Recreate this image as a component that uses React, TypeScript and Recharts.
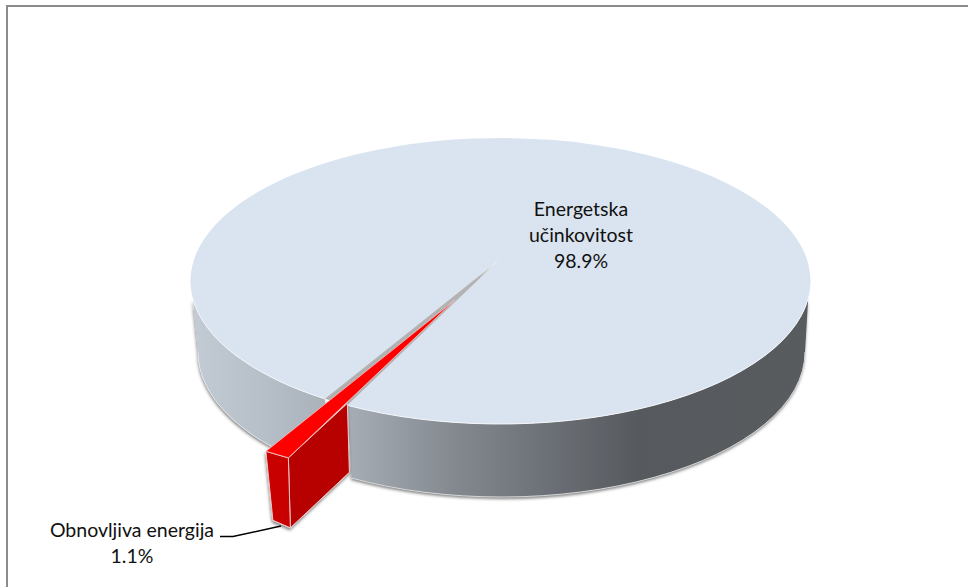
import { PieChart, Pie } from "recharts";

const categories = ["Energetska učinkovitost", "Obnovljiva energija"];
const shares = [98.9, 1.1];
const labelLines = [["Energetska", "učinkovitost"], ["Obnovljiva energija"]];

const chartData = categories.map((name, i) => ({ name, value: shares[i] }));

// fake 3d: the circular pie is squashed into an ellipse in the slice shape
const CX = 500.5;
const CY = 281;
const RX = 310;
const RY = 143;
const BOTTOM_RX = 303.5;
const BOTTOM_RY = 145;
const BOTTOM_SHIFT = 1;
const DEPTH = 71;
const APEX_OFFSET = -21; // perspective moves the visible middle above the ellipse centre
const WIDEN = 0.94; // the near slice looks a bit wider than its real angle
const WALL_START = 187; // the wall only shows up a little below the widest point
const WALL_END = 353;

const rad = (a: number) => (a * Math.PI) / 180;
const top = (cx: number, cy: number, a: number) => ({
  x: cx + RX * Math.cos(rad(a)),
  y: cy - RY * Math.sin(rad(a)),
});
const bottom = (cx: number, cy: number, a: number) => ({
  x: cx + BOTTOM_SHIFT + BOTTOM_RX * Math.cos(rad(a)),
  y: cy + DEPTH - BOTTOM_RY * Math.sin(rad(a)),
});

function rimArc(cx: number, cy: number, a1: number, a2: number) {
  const q1 = bottom(cx, cy, a1);
  const q2 = bottom(cx, cy, a2);
  return `M${q1.x},${q1.y} A${BOTTOM_RX},${BOTTOM_RY} 0 0 0 ${q2.x},${q2.y}`;
}

// t1..t2 is the arc on the top ellipse, b1..b2 the arc on the bottom one
function wall(cx: number, cy: number, t1: number, t2: number, b1: number, b2: number) {
  const p1 = top(cx, cy, t1);
  const p2 = top(cx, cy, t2);
  const q1 = bottom(cx, cy, b1);
  const q2 = bottom(cx, cy, b2);
  return (
    `M${p1.x},${p1.y} A${RX},${RY} 0 0 0 ${p2.x},${p2.y} ` +
    `L${q2.x},${q2.y} A${BOTTOM_RX},${BOTTOM_RY} 0 0 1 ${q1.x},${q1.y} Z`
  );
}

function poly(points: { x: number; y: number }[]) {
  return points.map((p, i) => `${i ? "L" : "M"}${p.x},${p.y}`).join(" ") + " Z";
}

function MainSlice({ cx, cy, startAngle, endAngle }: any) {
  const a1 = startAngle;
  const a2 = endAngle - WIDEN;
  const apex = { x: cx - 1.5, y: cy + APEX_OFFSET };
  const p1 = top(cx, cy, a1);
  const p2 = top(cx, cy, a2);
  const leftEnd = a2 - 360;
  return (
    <g>
      <g filter="url(#pieShadow)">
        <path d={wall(cx, cy, WALL_START, leftEnd, 180, leftEnd)} fill="url(#wallFill)" />
        <path d={wall(cx, cy, a1, WALL_END, a1, 360)} fill="url(#wallFill)" />
      </g>
      <path d={rimArc(cx, cy, 180, leftEnd)} fill="none" stroke="#e4e7ea" strokeWidth={1} />
      <path d={rimArc(cx, cy, a1, 360)} fill="none" stroke="#d4d6d8" strokeWidth={1} />
      <path
        d={`M${apex.x},${apex.y} L${p1.x},${p1.y} A${RX},${RY} 0 1 0 ${p2.x},${p2.y} Z`}
        fill="#dae4f0"
      />
      <path
        d={`M${top(cx, cy, WALL_START).x},${top(cx, cy, WALL_START).y} A${RX},${RY} 0 0 0 ${p2.x},${p2.y}`}
        fill="none"
        stroke="#f4f6f9"
        strokeWidth={1}
      />
      <path
        d={`M${p1.x},${p1.y} A${RX},${RY} 0 0 0 ${top(cx, cy, WALL_END).x},${top(cx, cy, WALL_END).y}`}
        fill="none"
        stroke="#f4f6f9"
        strokeWidth={1}
      />
      <path d={poly([apex, p2, p1])} fill="url(#notchFill)" />
    </g>
  );
}

function RedSlice({ cx, cy, startAngle, endAngle }: any) {
  const ox = -59;
  const oy = 52.5;
  const tip = { x: cx - 45.5, y: cy + 19 };
  const a = top(cx, cy, startAngle - WIDEN);
  const b = top(cx, cy, endAngle);
  const outerL = { x: a.x + ox, y: a.y + oy };
  const outerR = { x: b.x + ox, y: b.y + oy };
  const lowL = { x: outerL.x + 7, y: outerL.y + 69 };
  const lowR = { x: outerR.x + 2, y: outerR.y + 70 };
  const inner = { x: b.x, y: b.y - 2 };
  const innerLow = { x: inner.x + 2, y: inner.y + 69 };
  const edge = { stroke: "#f0c8c8", strokeWidth: 1, strokeLinejoin: "round" as const };
  return (
    <g>
      <g filter="url(#pieShadow)">
        <path d={poly([outerR, inner, innerLow, lowR])} fill="#b70000" {...edge} />
        <path d={poly([outerL, outerR, lowR, lowL])} fill="#c90000" {...edge} />
      </g>
      <path d={poly([tip, outerL, outerR])} fill="#ff0000" {...edge} strokeWidth={0.8} />
    </g>
  );
}

function renderSlice(props: any) {
  return props.index === 0 ? <MainSlice {...props} /> : <RedSlice {...props} />;
}

function renderLabel(props: any) {
  const { index, value } = props;
  const lines = labelLines[index];
  const pct = `${value}%`;
  const textStyle = { fontFamily: "Lato, sans-serif", fontSize: 19.5, fill: "#111" };
  if (index === 0) {
    return (
      <text {...textStyle} textAnchor="middle">
        <tspan x={581} y={216}>{lines[0]}</tspan>
        <tspan x={581} y={242}>{lines[1]}</tspan>
        <tspan x={581} y={268}>{pct}</tspan>
      </text>
    );
  }
  return (
    <g>
      <path d="M220,536.5 L233,536.5 L281,526" fill="none" stroke="#000" strokeWidth={1.5} />
      <text {...textStyle} textAnchor="middle">
        <tspan x={132} y={537}>{lines[0]}</tspan>
        <tspan x={132} y={563}>{pct}</tspan>
      </text>
    </g>
  );
}

export default function App() {
  return (
    <div
      style={{
        position: "absolute",
        left: 0,
        top: 0,
        width: 968,
        height: 587,
        background: "#fff",
        overflow: "hidden",
      }}
    >
      <div style={{ position: "absolute", left: 6, top: 5, width: 962, height: 2, background: "#8c8c8c" }} />
      <div style={{ position: "absolute", left: 6, top: 5, width: 2, height: 582, background: "#8c8c8c" }} />
      <PieChart width={968} height={587} margin={{ top: 0, right: 0, bottom: 0, left: 0 }}>
        <defs>
          <linearGradient id="wallFill" gradientUnits="userSpaceOnUse" x1={190} y1={0} x2={811} y2={0}>
            <stop offset="0" stopColor="#c3cbd5" />
            <stop offset="0.12" stopColor="#b6bec8" />
            <stop offset="0.26" stopColor="#a5acb3" />
            <stop offset="0.42" stopColor="#858a91" />
            <stop offset="0.56" stopColor="#6e7279" />
            <stop offset="0.72" stopColor="#575a5e" />
            <stop offset="1" stopColor="#585b5f" />
          </linearGradient>
          <linearGradient id="notchFill" gradientUnits="userSpaceOnUse" x1={499} y1={260} x2={336} y2={404}>
            <stop offset="0" stopColor="#f2f2f2" />
            <stop offset="0.12" stopColor="#b4b4b4" />
            <stop offset="1" stopColor="#b0b0b0" />
          </linearGradient>
          <filter id="pieShadow" x="-10%" y="-10%" width="120%" height="125%">
            <feDropShadow dx={-0.5} dy={2} stdDeviation={1.5} floodColor="#000" floodOpacity={0.5} />
          </filter>
        </defs>
        <Pie
          data={chartData}
          dataKey="value"
          nameKey="name"
          cx={CX}
          cy={CY}
          innerRadius={0}
          outerRadius={RX}
          startAngle={240.4}
          endAngle={600.4}
          paddingAngle={0}
          stroke="none"
          shape={renderSlice}
          label={renderLabel}
          labelLine={false}
          isAnimationActive={false}
        />
      </PieChart>
    </div>
  );
}
